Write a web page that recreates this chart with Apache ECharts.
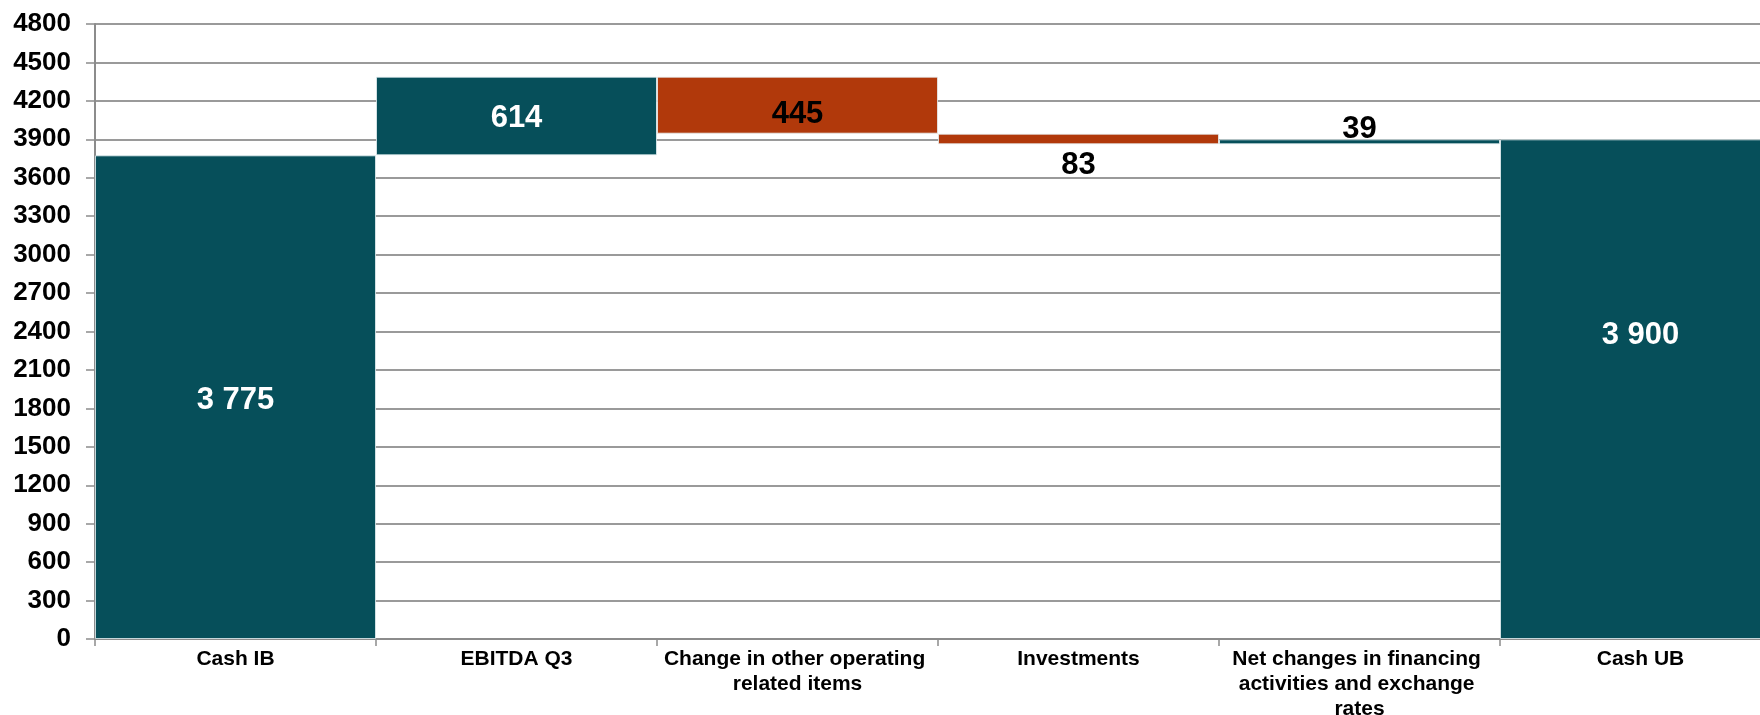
<!DOCTYPE html>
<html>
<head>
<meta charset="utf-8">
<script src="https://cdn.jsdelivr.net/npm/echarts@6/dist/echarts.min.js"></script>
<style>
  html, body { margin: 0; padding: 0; background: #ffffff; }
  #main { width: 1760px; height: 715px; }
</style>
</head>
<body>
<div id="main"></div>
<script>
// categories (x axis)
const categories = ['Cash IB', 'EBITDA Q3', 'Change in other operating related items', 'Investments', 'Net changes in financing activities and exchange rates', 'Cash UB']
// signed change per step; first and last are totals
const changes = [3775, 614, -445, -83, 39, 3900]
const isTotal = [true, false, false, false, false, true]
// y axis ticks
const yMax = 4800
const yStep = 300

const teal = '#064f5a'
const orange = '#b1390b'

// invisible base + visible bar height
let base = []
let height = []
let running = 0
for (let i = 0; i < changes.length; i++) {
  if (isTotal[i]) {
    base.push(0)
    height.push(changes[i])
    running = changes[i]
  } else if (changes[i] >= 0) {
    base.push(running)
    height.push(changes[i])
    running += changes[i]
  } else {
    running += changes[i]
    base.push(running)
    height.push(-changes[i])
  }
}

function fmt(v) {
  return String(Math.abs(v)).replace(/\B(?=(\d{3})+(?!\d))/g, ' ')
}

const labelFont = { fontFamily: 'Liberation Sans, Arial, sans-serif', fontWeight: 'bold', fontSize: 31 }
// small nudges so the labels sit where the original puts them
const labelOffsets = [[0, 3], [0, 2], [0, 9], [0, 0], [0, 0], [0, -54]]

const barData = height.map(function (h, i) {
  let color = changes[i] < 0 ? orange : teal
  let label = Object.assign({ show: true, formatter: fmt(changes[i]), offset: labelOffsets[i] }, labelFont)
  if (isTotal[i] || i === 1) {
    label.position = 'inside'
    label.color = '#ffffff'
  } else if (changes[i] < 0 && i === 2) {
    label.position = 'inside'
    label.color = '#000000'
  } else if (changes[i] < 0) {
    label.position = 'bottom'
    label.distance = 6
    label.color = '#000000'
  } else {
    label.position = 'top'
    label.distance = -6
    label.color = '#000000'
  }
  return { value: h, itemStyle: { color: color }, label: label }
})

const chart = echarts.init(document.getElementById('main'))
const option = {
  animation: false,
  backgroundColor: '#ffffff',
  grid: {
    left: 95,
    top: 24,
    bottom: 76,
    width: 1686,
    containLabel: false,
    outerBoundsMode: 'none'
  },
  xAxis: {
    type: 'category',
    data: categories,
    boundaryGap: true,
    axisLine: { lineStyle: { color: '#8c8c8c', width: 2 } },
    axisTick: { show: true, length: 7, lineStyle: { color: '#8c8c8c', width: 1.5 } },
    axisLabel: {
      interval: 0,
      color: '#000000',
      fontFamily: 'Liberation Sans, Arial, sans-serif',
      fontWeight: 'bold',
      fontSize: 21,
      lineHeight: 25,
      margin: 8,
      width: 272,
      overflow: 'break'
    }
  },
  yAxis: {
    type: 'value',
    min: 0,
    max: yMax,
    interval: yStep,
    axisLine: { show: true, lineStyle: { color: '#8c8c8c', width: 2 } },
    axisTick: { show: true, length: 9, lineStyle: { color: '#8c8c8c', width: 1.5 } },
    splitLine: { show: true, lineStyle: { color: '#9a9a9a', width: 2 } },
    axisLabel: {
      color: '#000000',
      fontFamily: 'Liberation Sans, Arial, sans-serif',
      fontWeight: 'bold',
      fontSize: 26,
      margin: 24,
      formatter: function (v) { return String(v) }
    }
  },
  series: [
    {
      name: 'base',
      type: 'bar',
      stack: 'wf',
      silent: true,
      barCategoryGap: '0%',
      itemStyle: { color: 'transparent' },
      data: base
    },
    {
      name: 'value',
      type: 'bar',
      stack: 'wf',
      barCategoryGap: '0%',
      itemStyle: { borderColor: 'rgba(230,240,242,0.8)', borderWidth: 1 },
      data: barData
    }
  ]
}
chart.setOption(option)
</script>
</body>
</html>
